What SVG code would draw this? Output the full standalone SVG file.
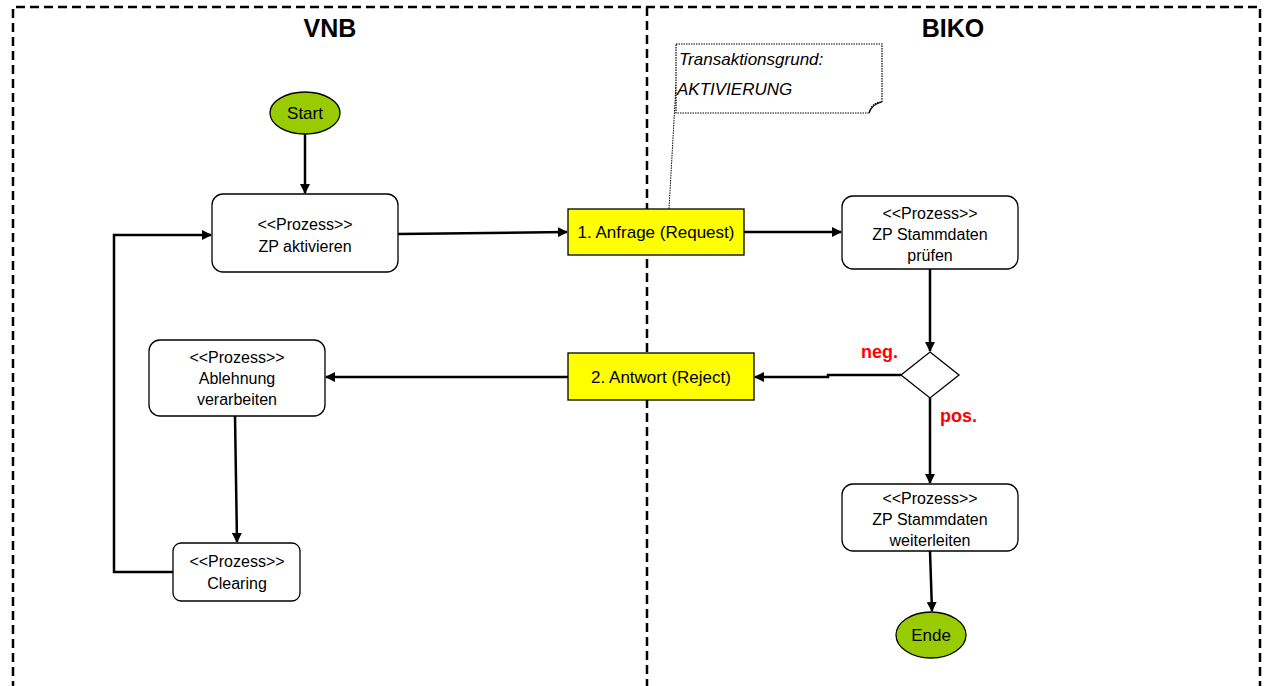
<svg xmlns="http://www.w3.org/2000/svg" width="1266" height="686" viewBox="0 0 1266 686">
<style>
.frame{fill:none;stroke:#000;stroke-width:2.5;stroke-dasharray:9 5}
.proc{fill:#fff;stroke:#000;stroke-width:1.3}
.msg{fill:#ffff00;stroke:#000;stroke-width:1.3}
.term{fill:#99cc00;stroke:#000;stroke-width:1.3}
.t{font-family:"Liberation Sans",Arial,sans-serif;font-size:16px;fill:#000;text-anchor:middle}
.m{font-family:"Liberation Sans",Arial,sans-serif;font-size:17px;fill:#000;text-anchor:middle}
.h{font-family:"Liberation Sans",Arial,sans-serif;font-size:25px;font-weight:bold;fill:#000;text-anchor:middle}
.lbl{font-family:"Liberation Sans",Arial,sans-serif;font-size:18px;font-weight:bold;fill:#ff0000}
.note{font-family:"Liberation Sans",Arial,sans-serif;font-size:17px;font-style:italic;fill:#000}
.c{fill:none;stroke:#000;stroke-width:2.5}
</style>
<defs>
<marker id="ah" markerWidth="10" markerHeight="10" refX="9" refY="5" orient="auto" markerUnits="userSpaceOnUse">
<path d="M0,0 L10,5 L0,10 z" fill="#000"/>
</marker>
</defs>
<rect width="1266" height="686" fill="#fff"/>
<g id="lanes">
<path class="frame" d="M13,690 L13,7 L1260,7 L1260,690"/>
<path class="frame" d="M647,7 L647,690"/>
<text class="h" x="330" y="37">VNB</text>
<text class="h" x="953" y="37">BIKO</text>
</g>
<g id="connectors">
<path class="c" d="M305,134 L305,193" marker-end="url(#ah)"/>
<path class="c" d="M398,234 L567,232" marker-end="url(#ah)"/>
<path class="c" d="M744,232 L841,232" marker-end="url(#ah)"/>
<path class="c" d="M930,269 L930,351" marker-end="url(#ah)"/>
<path class="c" d="M901,375 L828,375 L828,377 L755,377" marker-end="url(#ah)"/>
<path class="c" d="M568,377 L326,377" marker-end="url(#ah)"/>
<path class="c" d="M235,416 L236,480 L237,542" marker-end="url(#ah)"/>
<path class="c" d="M173,572 L114,572 L114,235 L211,235" marker-end="url(#ah)"/>
<path class="c" d="M930,398 L930,483" marker-end="url(#ah)"/>
<path class="c" d="M930,551 L932,611" marker-end="url(#ah)"/>
<path d="M676,85 L669,209" fill="none" stroke="#000" stroke-width="1" stroke-dasharray="1.5 1"/>
</g>
<g id="note">
<path d="M676,44 L882,44 L882,102 Q872,102 869,113 L676,113 Z" fill="#fff" stroke="#000" stroke-width="1.2" stroke-dasharray="1.5 1"/>
<path d="M869,113 Q872,104 882,102" fill="none" stroke="#000" stroke-width="1.2"/>
<text class="note" x="679" y="65">Transaktionsgrund:</text>
<text class="note" x="677" y="95">AKTIVIERUNG</text>
</g>
<g id="start">
<ellipse class="term" cx="305" cy="113" rx="35" ry="21"/>
<text class="m" x="305" y="119">Start</text>
</g>
<g id="zp-aktivieren">
<rect class="proc" x="212" y="194" width="186" height="78" rx="11"/>
<text class="t" x="305" y="230">&lt;&lt;Prozess&gt;&gt;</text>
<text class="t" x="305" y="252">ZP aktivieren</text>
</g>
<g id="anfrage">
<rect class="msg" x="568" y="209" width="176" height="46"/>
<text class="m" x="656" y="238">1. Anfrage (Request)</text>
</g>
<g id="zp-pruefen">
<rect class="proc" x="842" y="196" width="176" height="73" rx="11"/>
<text class="t" x="930" y="219">&lt;&lt;Prozess&gt;&gt;</text>
<text class="t" x="930" y="240">ZP Stammdaten</text>
<text class="t" x="930" y="261">prüfen</text>
</g>
<g id="decision">
<path d="M930,352 L959,375 L930,398 L901,375 Z" fill="#fff" stroke="#000" stroke-width="1.3"/>
<text class="lbl" x="861" y="358">neg.</text>
<text class="lbl" x="940" y="422">pos.</text>
</g>
<g id="antwort">
<rect class="msg" x="568" y="353" width="186" height="47"/>
<text class="m" x="661" y="383">2. Antwort (Reject)</text>
</g>
<g id="ablehnung">
<rect class="proc" x="149" y="340" width="176" height="76" rx="11"/>
<text class="t" x="237" y="363">&lt;&lt;Prozess&gt;&gt;</text>
<text class="t" x="237" y="384">Ablehnung</text>
<text class="t" x="237" y="405">verarbeiten</text>
</g>
<g id="clearing">
<rect class="proc" x="173" y="543" width="127" height="58" rx="8"/>
<text class="t" x="237" y="567">&lt;&lt;Prozess&gt;&gt;</text>
<text class="t" x="237" y="589">Clearing</text>
</g>
<g id="zp-weiterleiten">
<rect class="proc" x="842" y="484" width="176" height="67" rx="11"/>
<text class="t" x="930" y="504">&lt;&lt;Prozess&gt;&gt;</text>
<text class="t" x="930" y="525">ZP Stammdaten</text>
<text class="t" x="930" y="546">weiterleiten</text>
</g>
<g id="ende">
<ellipse class="term" cx="931" cy="635" rx="35" ry="23"/>
<text class="m" x="931" y="641">Ende</text>
</g>
</svg>
